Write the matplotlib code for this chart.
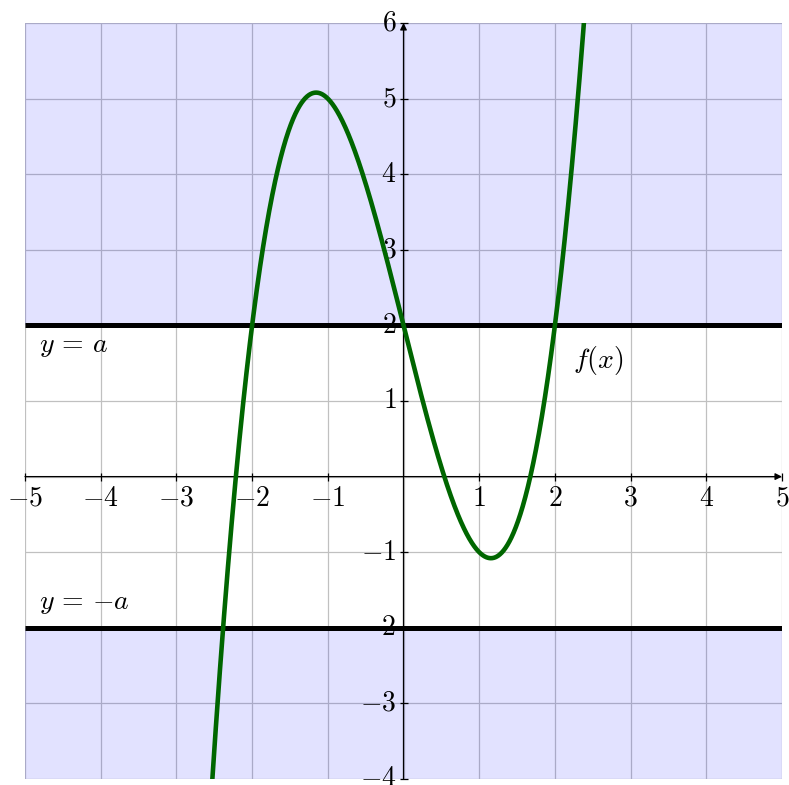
import numpy as np
import matplotlib
matplotlib.use("Agg")
import matplotlib.pyplot as plt

plt.rcParams['mathtext.fontset'] = 'cm'
plt.rcParams['font.family'] = ['DejaVu Serif']

# Data
poly_coeffs = [1, 0, -4, 2]          # f(x) = x^3 - 4x + 2
x_range = [-5, 5]
y_range = [-4, 6]
a_value = 2
x_ticks = [-5, -4, -3, -2, -1, 1, 2, 3, 4, 5]
y_ticks = [-4, -3, -2, -1, 1, 2, 3, 4, 5, 6]
labels = {"ya": r"$y\,=\,a$", "yma": r"$y\,=\,{-a}$", "f": r"$f(x)$"}

W, H = 789, 785
fig = plt.figure(figsize=(W / 100, H / 100), dpi=100)
ax = fig.add_axes([25 / W, (H - 779) / H, 757 / W, 756 / H])
ax.set_xlim(*x_range)
ax.set_ylim(*y_range)
for s in ax.spines.values():
    s.set_visible(False)
ax.set_xticks([])
ax.set_yticks([])

# grid
for gx in range(x_range[0], x_range[1] + 1):
    ax.axvline(gx, color='#c0c0c0', lw=0.9, zorder=1)
for gy in range(y_range[0], y_range[1] + 1):
    ax.axhline(gy, color='#c0c0c0', lw=0.9, zorder=1)

# shaded regions
ax.fill_between(x_range, a_value, y_range[1], color='blue', alpha=0.115, lw=0, zorder=2)
ax.fill_between(x_range, y_range[0], -a_value, color='blue', alpha=0.115, lw=0, zorder=2)

# axes with arrows
ax.annotate('', xy=(x_range[1], 0), xytext=(x_range[0], 0),
            arrowprops=dict(arrowstyle='-|>', color='black', lw=0.9,
                            mutation_scale=10, shrinkA=0, shrinkB=0),
            zorder=3, annotation_clip=False)
ax.annotate('', xy=(0, y_range[1]), xytext=(0, y_range[0]),
            arrowprops=dict(arrowstyle='-|>', color='black', lw=0.9,
                            mutation_scale=10, shrinkA=0, shrinkB=0),
            zorder=3, annotation_clip=False)

# tick marks
ax.plot(x_ticks, [0] * len(x_ticks), ls='none', marker='|', ms=6, mew=0.9,
        color='black', zorder=3, clip_on=False)
ax.plot([0] * len(y_ticks), y_ticks, ls='none', marker='_', ms=6, mew=0.9,
        color='black', zorder=3, clip_on=False)

fs = 20
for t in x_ticks:
    ax.annotate(f'${t}$', xy=(t, 0), xytext=(0, -6),
                textcoords='offset points', ha='center', va='top',
                fontsize=fs, zorder=3, annotation_clip=False)
for t in y_ticks:
    ax.annotate(f'${t}$', xy=(0, t), xytext=(-5, 0),
                textcoords='offset points', ha='right', va='center',
                fontsize=fs, zorder=3, annotation_clip=False)

# horizontal lines y = a, y = -a
ax.plot(x_range, [a_value, a_value], color='black', lw=3.6, zorder=4,
        solid_capstyle='butt')
ax.plot(x_range, [-a_value, -a_value], color='black', lw=3.6, zorder=4,
        solid_capstyle='butt')

# curve
xs = np.linspace(-3, 3, 1200)
ax.plot(xs, np.polyval(poly_coeffs, xs), color='#006600', lw=3.3, zorder=5)

ax.text(-4.82, 1.73, labels["ya"], fontsize=fs, ha='left', va='center', zorder=6)
ax.text(-4.82, -1.66, labels["yma"], fontsize=fs, ha='left', va='center', zorder=6)
ax.text(2.24, 1.53, labels["f"], fontsize=fs, ha='left', va='center', zorder=6)

fig.savefig('out.png', dpi=100)
